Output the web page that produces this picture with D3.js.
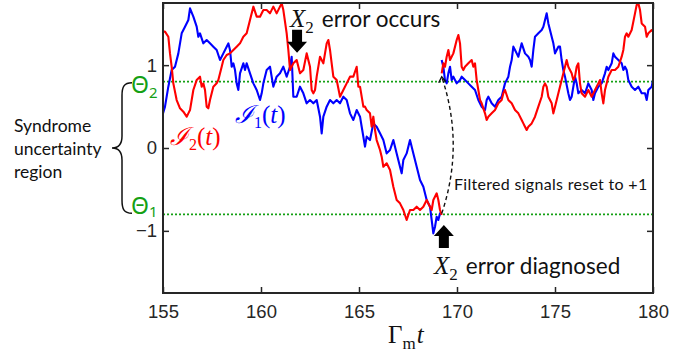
<!DOCTYPE html>
<html><head><meta charset="utf-8">
<script src="https://cdn.jsdelivr.net/npm/d3@7/dist/d3.min.js"></script>
<style>body{margin:0;background:#fff}svg{display:block}</style>
</head><body>
<svg id="chart" width="700" height="358"></svg>
<script>
// ---- data ----
const xTicks = [155, 160, 165, 170, 175, 180];
const yTicks = [-1, 0, 1];
const thresholds = [0.8, -0.8];
const thresholdSubs = ["2", "1"];
const resetTime = 169.22;

// I1(t) (blue) before and after reset: [Γm t, value]
const i1Pre = [[155.0,0.418],[155.102,0.499],[155.272,0.740],[155.442,0.941],[155.612,0.981],[155.783,1.142],[155.953,1.384],[156.123,1.464],[156.293,1.545],[156.378,1.685],[156.548,1.585],[156.718,1.464],[156.803,1.343],[156.888,1.384],[157.058,1.263],[157.228,1.303],[157.398,1.263],[157.568,1.223],[157.739,1.183],[157.909,1.062],[158.079,1.142],[158.249,1.223],[158.334,1.263],[158.419,1.183],[158.504,0.981],[158.589,1.022],[158.674,0.941],[158.759,0.780],[158.844,0.700],[158.929,0.901],[159.099,1.022],[159.184,0.941],[159.269,1.022],[159.439,0.901],[159.610,0.780],[159.780,0.700],[159.950,0.579],[160.035,0.660],[160.120,0.780],[160.289,0.941],[160.459,0.981],[160.629,0.740],[160.799,0.861],[160.969,0.901],[161.140,0.981],[161.310,0.861],[161.480,0.981],[161.565,1.102],[161.650,0.619],[161.820,0.619],[161.990,0.740],[162.160,0.660],[162.330,0.539],[162.500,0.579],[162.671,0.539],[162.841,0.579],[163.011,0.378],[163.096,0.177],[163.181,0.378],[163.351,0.499],[163.521,0.579],[163.691,0.539],[163.861,0.579],[164.031,0.539],[164.201,0.619],[164.371,0.579],[164.541,0.418],[164.711,0.338],[164.882,0.458],[165.052,0.378],[165.137,0.257],[165.306,0.016],[165.391,0.137],[165.561,0.096],[165.731,0.297],[165.901,0.257],[166.072,0.177],[166.242,0.096],[166.412,-0.065],[166.582,-0.024],[166.752,0.096],[166.922,-0.065],[167.092,-0.226],[167.177,-0.306],[167.262,-0.145],[167.432,-0.065],[167.602,0.096],[167.773,-0.065],[167.943,-0.226],[168.113,-0.386],[168.283,-0.467],[168.453,-0.628],[168.623,-0.708],[168.708,-0.869],[168.793,-1.030],[168.878,-0.950],[168.963,-0.829],[169.048,-0.869],[169.133,-0.789],[169.218,-0.789]];
const i1Post = [[169.218,1.062],[169.303,0.981],[169.388,0.820],[169.474,0.780],[169.559,0.901],[169.644,0.981],[169.729,0.820],[169.814,0.861],[169.984,0.780],[170.154,0.820],[170.239,0.861],[170.409,0.820],[170.578,0.780],[170.749,0.740],[170.919,0.700],[171.089,0.579],[171.259,0.499],[171.429,0.458],[171.514,0.579],[171.599,0.619],[171.769,0.539],[171.939,0.499],[172.109,0.579],[172.279,0.619],[172.449,0.780],[172.620,0.861],[172.705,0.981],[172.790,1.062],[172.875,1.223],[172.960,1.183],[173.045,1.142],[173.130,1.102],[173.300,1.263],[173.470,1.142],[173.640,1.102],[173.725,1.062],[173.810,0.981],[173.895,1.183],[173.980,1.343],[174.150,1.384],[174.321,1.424],[174.406,1.464],[174.491,1.545],[174.576,1.625],[174.661,1.504],[174.831,1.343],[174.916,1.263],[175.001,1.142],[175.086,1.183],[175.171,1.223],[175.255,1.223],[175.340,1.062],[175.425,0.941],[175.510,0.861],[175.680,0.660],[175.765,0.579],[175.850,0.619],[176.021,0.861],[176.106,0.780],[176.191,0.660],[176.361,0.700],[176.531,0.660],[176.701,0.780],[176.871,0.700],[176.956,0.579],[177.041,0.660],[177.211,0.740],[177.381,0.780],[177.551,0.901],[177.636,0.981],[177.722,0.941],[177.892,1.022],[177.977,1.142],[178.062,1.102],[178.232,1.062],[178.402,1.022],[178.487,0.941],[178.572,0.981],[178.657,0.941],[178.742,0.820],[178.912,0.740],[179.082,0.700],[179.252,0.740],[179.423,0.660],[179.593,0.660],[179.678,0.579],[179.763,0.700],[179.933,0.740],[180.0,0.820]];

// I2(t) (red) before and after reset
const i2Pre = [[155.0,1.404],[155.102,1.404],[155.272,1.343],[155.357,1.142],[155.442,0.981],[155.527,0.780],[155.697,0.579],[155.868,0.479],[156.038,0.438],[156.208,0.378],[156.293,0.418],[156.378,0.458],[156.548,0.700],[156.718,0.820],[156.888,0.861],[156.973,0.740],[157.058,0.780],[157.143,0.700],[157.228,0.499],[157.313,0.479],[157.398,0.579],[157.568,0.740],[157.739,0.780],[157.824,0.820],[157.994,0.981],[158.079,1.062],[158.249,1.122],[158.419,1.142],[158.589,1.183],[158.759,1.223],[158.929,1.263],[159.099,1.343],[159.269,1.384],[159.439,1.545],[159.610,1.706],[159.780,1.585],[159.950,1.585],[160.120,1.665],[160.289,1.665],[160.459,1.625],[160.629,1.706],[160.799,1.625],[160.969,1.706],[161.055,1.746],[161.140,1.665],[161.310,1.384],[161.395,1.183],[161.480,0.941],[161.650,1.022],[161.820,1.062],[161.990,0.901],[162.160,0.941],[162.330,1.142],[162.500,0.981],[162.585,0.700],[162.671,0.660],[162.756,0.700],[162.841,0.861],[163.011,1.102],[163.181,1.022],[163.351,1.263],[163.436,1.303],[163.521,1.183],[163.606,1.022],[163.691,0.861],[163.861,0.820],[164.031,0.619],[164.201,0.700],[164.371,0.780],[164.541,0.861],[164.711,0.861],[164.882,0.981],[164.967,0.740],[165.052,0.740],[165.222,0.499],[165.306,0.499],[165.391,0.458],[165.561,0.418],[165.646,0.257],[165.731,0.378],[165.816,0.217],[165.901,0.096],[166.072,-0.024],[166.157,-0.105],[166.242,-0.226],[166.412,-0.185],[166.582,-0.266],[166.752,-0.467],[166.922,-0.628],[167.092,-0.668],[167.262,-0.748],[167.432,-0.869],[167.602,-0.748],[167.773,-0.748],[167.943,-0.708],[168.113,-0.748],[168.283,-0.708],[168.453,-0.628],[168.623,-0.708],[168.708,-0.748],[168.793,-0.628],[168.963,-0.547],[169.048,-0.628],[169.133,-0.748],[169.218,-0.809]];
const i2Post = [[169.218,0.901],[169.303,1.022],[169.388,0.981],[169.474,1.102],[169.559,1.183],[169.644,1.062],[169.814,1.142],[169.984,1.303],[170.069,1.364],[170.154,1.263],[170.238,0.981],[170.323,0.941],[170.408,0.981],[170.578,1.022],[170.749,1.062],[170.834,0.981],[170.919,1.022],[171.004,0.820],[171.089,0.700],[171.174,0.579],[171.259,0.539],[171.429,0.418],[171.514,0.338],[171.599,0.378],[171.769,0.418],[171.939,0.458],[172.109,0.539],[172.279,0.579],[172.364,0.660],[172.449,0.700],[172.620,0.579],[172.790,0.539],[172.960,0.458],[173.130,0.418],[173.300,0.338],[173.385,0.297],[173.470,0.257],[173.555,0.217],[173.640,0.257],[173.810,0.297],[173.980,0.378],[174.150,0.499],[174.321,0.619],[174.406,0.740],[174.491,0.780],[174.576,0.740],[174.661,0.619],[174.831,0.539],[174.916,0.418],[175.001,0.499],[175.171,0.660],[175.340,0.820],[175.510,0.981],[175.595,1.062],[175.680,0.981],[175.765,0.941],[175.850,0.901],[175.936,0.820],[176.021,0.861],[176.106,0.981],[176.191,1.022],[176.276,0.780],[176.361,0.660],[176.531,0.619],[176.701,0.700],[176.871,0.619],[177.041,0.700],[177.211,0.780],[177.296,0.820],[177.381,0.660],[177.466,0.539],[177.551,0.700],[177.722,0.861],[177.892,0.941],[178.062,0.941],[178.232,0.981],[178.402,1.102],[178.487,1.183],[178.572,1.343],[178.657,1.384],[178.742,1.343],[178.912,1.424],[179.082,1.625],[179.167,1.726],[179.252,1.746],[179.338,1.665],[179.423,1.504],[179.593,1.464],[179.678,1.343],[179.763,1.384],[179.933,1.424],[180.0,1.404]];

// ---- chart ----
const L = 163, R = 653, T = 3, B = 293;
const svg = d3.select('#chart');
const x = d3.scaleLinear().domain([155, 180]).range([L, R]);
const y = d3.scaleLinear().domain([-1.75, 1.75]).range([B, T]);
const axisCol = '#262626';
const green = '#14a014';
const sansAnn = 'Lato, "Open Sans", sans-serif';

svg.append('defs').append('clipPath').attr('id', 'clip')
  .append('rect').attr('x', L).attr('y', T).attr('width', R - L).attr('height', B - T);

// threshold lines
svg.append('g').selectAll('line').data(thresholds).join('line')
  .attr('x1', L).attr('x2', R).attr('y1', d => y(d)).attr('y2', d => y(d))
  .attr('stroke', green).attr('stroke-width', 1.8).attr('stroke-dasharray', '2,2');

// signal lines
const line = d3.line().x(d => x(d[0])).y(d => y(d[1]));
const g = svg.append('g').attr('clip-path', 'url(#clip)');
[[i1Pre, '#0000ff'], [i1Post, '#0000ff'], [i2Pre, '#ff0000'], [i2Post, '#ff0000']].forEach(([d, c]) => {
  g.append('path').datum(d).attr('d', line).attr('fill', 'none')
    .attr('stroke', c).attr('stroke-width', 2.1).attr('stroke-linejoin', 'round');
});

// axes
function styleAxis(sel) {
  sel.select('.domain').remove();
  sel.selectAll('.tick line').attr('stroke', axisCol).attr('stroke-width', 1.5);
  sel.selectAll('.tick text').attr('fill', axisCol)
    .style('font-family', '"Liberation Sans", Arial, sans-serif').style('font-size', '18.5px');
}
svg.append('g').attr('transform', `translate(0,${B})`)
  .call(d3.axisBottom(x).tickValues(xTicks).tickSizeInner(-6).tickSizeOuter(0).tickPadding(12).tickFormat(d3.format('d')))
  .call(styleAxis);
svg.append('g').attr('transform', `translate(0,${T})`)
  .call(d3.axisTop(x).tickValues(xTicks).tickSizeInner(-6).tickSizeOuter(0).tickFormat(''))
  .call(styleAxis);
svg.append('g').attr('transform', `translate(${L},0)`)
  .call(d3.axisLeft(y).tickValues(yTicks).tickSizeInner(-6).tickSizeOuter(0).tickPadding(6).tickFormat(d3.format('d')))
  .call(styleAxis);
svg.append('g').attr('transform', `translate(${R},0)`)
  .call(d3.axisRight(y).tickValues(yTicks).tickSizeInner(-6).tickSizeOuter(0).tickFormat(''))
  .call(styleAxis);

svg.append('rect').attr('x', L).attr('y', T).attr('width', R - L).attr('height', B - T)
  .attr('fill', 'none').attr('stroke', axisCol).attr('stroke-width', 2);

// x label Γm t
const xl = svg.append('text').attr('x', 388).attr('y', 343).attr('fill', '#111')
  .style('font-family', '"Liberation Serif", "Times New Roman", serif').style('font-size', '25px');
xl.append('tspan').text('Γ');
xl.append('tspan').attr('dy', 6).style('font-size', '17px').text('m');
xl.append('tspan').attr('dy', -6).attr('dx', 1).style('font-style', 'italic').text('t');

// Θ labels (Θ2 centred on its line, Θ1 sits just above its line)
const thetaDy = [11, 0];
const thetaSubDy = [5, 3];
thresholds.forEach((v, i) => {
  const t = svg.append('text').attr('x', 131).attr('y', y(v) + thetaDy[i]).attr('fill', green)
    .style('font-family', '"Noto Sans", sans-serif').style('font-size', '23px');
  t.append('tspan').text('Θ');
  t.append('tspan').attr('dy', thetaSubDy[i]).style('font-size', '15px').text(thresholdSubs[i]);
});

// brace
const yt = y(thresholds[0]), ym = y(0), yb = y(thresholds[1]);
svg.append('path')
  .attr('d', `M132,${yt + 1} C124,${yt + 1} 122,${yt + 5} 122,${yt + 14} L122,${ym - 12} C122,${ym - 4} 118,${ym} 112,${ym} C118,${ym} 122,${ym + 4} 122,${ym + 12} L122,${yb - 14} C122,${yb - 5} 124,${yb - 1} 132,${yb - 1}`)
  .attr('fill', 'none').attr('stroke', '#111').attr('stroke-width', 1.5);

// Syndrome uncertainty region
['Syndrome', 'uncertainty', 'region'].forEach((s, i) => {
  svg.append('text').attr('x', 14).attr('y', 132 + i * 23).text(s).attr('fill', '#111')
    .style('font-family', sansAnn).style('font-size', '17.5px');
});

// series labels
function sigLabel(px, py, sub, col) {
  const t = svg.append('text').attr('x', px).attr('y', py).attr('fill', col)
    .style('font-family', '"DejaVu Serif", serif').style('font-size', '25px');
  t.append('tspan').style('font-style', 'italic').text('ℐ');
  t.append('tspan').attr('dy', 5).style('font-size', '16px').style('font-family', '"Liberation Serif", serif').text(sub);
  t.append('tspan').attr('dy', -5).style('font-family', '"Liberation Serif", serif').text('(');
  t.append('tspan').style('font-family', '"Liberation Serif", serif').style('font-style', 'italic').text('t');
  t.append('tspan').style('font-family', '"Liberation Serif", serif').text(')');
}
sigLabel(170, 145, '2', '#ff0000');
sigLabel(235, 123, '1', '#0000ff');

// X2 error labels
function errLabel(px, py, word) {
  const t = svg.append('text').attr('x', px).attr('y', py).attr('fill', '#111');
  t.append('tspan').style('font-family', '"Liberation Serif", serif').style('font-style', 'italic').style('font-size', '25px').text('X');
  t.append('tspan').attr('dy', 6).style('font-family', '"Liberation Serif", serif').style('font-size', '17px').text('2');
  t.append('tspan').attr('dy', -6).attr('dx', 8).style('font-family', sansAnn).style('font-size', '22.5px').text(word);
}
errLabel(290, 27, 'error occurs');
errLabel(434, 274, 'error diagnosed');

// block arrows
function blockArrow(px, tipY, dir) {
  const hw = 10, sw = 5, hl = 11, len = 23;
  const p = [[px, tipY], [px - hw, tipY - dir * hl], [px - sw, tipY - dir * hl], [px - sw, tipY - dir * len],
             [px + sw, tipY - dir * len], [px + sw, tipY - dir * hl], [px + hw, tipY - dir * hl]];
  svg.append('polygon').attr('points', p.map(q => q.join(',')).join(' ')).attr('fill', '#000');
}
blockArrow(x(161.84), y(1.15), 1);
blockArrow(x(169.33), y(-0.93), -1);

// dashed reset arrow
const sx = x(resetTime), sy = y(-0.79), ey = y(0.86);
svg.append('path').attr('d', `M${sx},${sy} Q${sx + 23},${(sy + ey) / 2} ${sx},${ey}`)
  .attr('fill', 'none').attr('stroke', '#111').attr('stroke-width', 1.4).attr('stroke-dasharray', '4,3');
svg.append('path').attr('d', `M${sx - 3},${ey + 6} L${sx},${ey} L${sx + 4},${ey + 5}`)
  .attr('fill', 'none').attr('stroke', '#111').attr('stroke-width', 1.4);

svg.append('text').attr('x', 454).attr('y', 190).text('Filtered signals reset to +1').attr('fill', '#111')
  .style('font-family', sansAnn).style('font-size', '16px').style('letter-spacing', '0.3px');
</script>
</body></html>
